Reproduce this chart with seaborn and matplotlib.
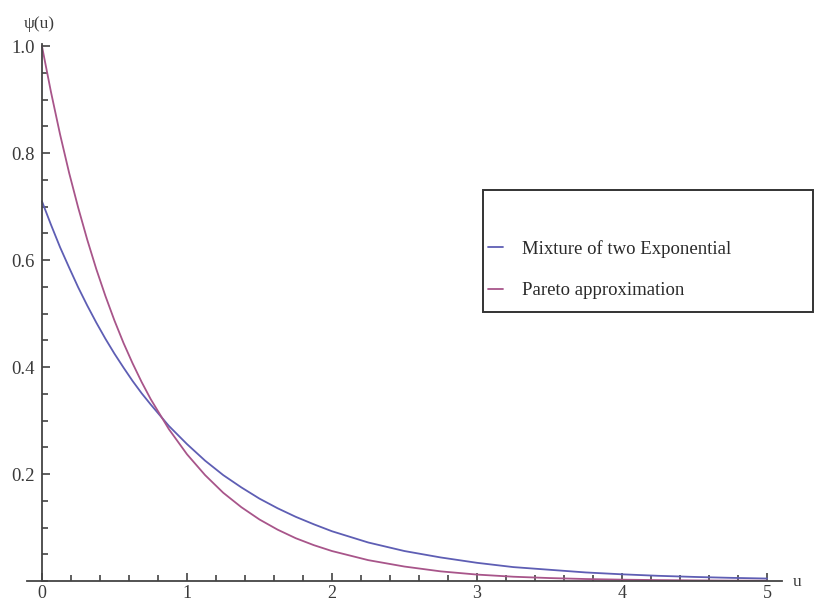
import numpy as np
import pandas as pd
import matplotlib
matplotlib.use("Agg")
import matplotlib.pyplot as plt
from matplotlib.ticker import MultipleLocator, FixedLocator
from matplotlib.patches import Rectangle
import seaborn as sns

# ---- data ----
u_values = [0, 0.0625, 0.125, 0.1875, 0.25, 0.3125, 0.375, 0.4375, 0.5,
            0.5625, 0.625, 0.6875, 0.75, 0.875, 1.0, 1.125, 1.25,
            1.375, 1.5, 1.625, 1.75, 1.875, 2.0, 2.25, 2.5, 2.75, 3.0, 3.25,
            3.5, 3.75, 4.0, 4.25, 4.5, 4.75, 5.0]
mixture_exp = [0.710, 0.666, 0.624, 0.586, 0.549, 0.515, 0.483, 0.453, 0.425,
               0.399, 0.374, 0.351, 0.330, 0.290, 0.256,
               0.225, 0.198, 0.175, 0.154, 0.136, 0.120, 0.106, 0.093, 0.072,
               0.056, 0.044, 0.034, 0.026, 0.021, 0.016, 0.0125, 0.0097,
               0.0076, 0.0059, 0.0046]
pareto_approx = [1.000, 0.914, 0.835, 0.763, 0.698, 0.638, 0.583, 0.533, 0.487,
                 0.445, 0.407, 0.372, 0.340, 0.284, 0.237,
                 0.198, 0.165, 0.138, 0.115, 0.096, 0.080, 0.067, 0.056, 0.039,
                 0.027, 0.018, 0.012, 0.008, 0.0055, 0.0037, 0.0025, 0.0017,
                 0.0011, 0.0007, 0.0005]
series_names = ["Mixture of two Exponential", "Pareto approximation"]
x_ticks = [0, 1, 2, 3, 4, 5]
x_tick_labels = ["0", "1", "2", "3", "4", "5"]
y_ticks = [0.2, 0.4, 0.6, 0.8, 1.0]
y_tick_labels = ["0.2", "0.4", "0.6", "0.8", "1.0"]

df = pd.DataFrame({
    "u": u_values * 2,
    "psi": mixture_exp + pareto_approx,
    "series": [series_names[0]] * len(u_values) + [series_names[1]] * len(u_values),
})

sns.set_style("white")
plt.rcParams["font.family"] = ["Liberation Serif", "DejaVu Serif"]

W, H = 814, 606
fig = plt.figure(figsize=(W / 100, H / 100), dpi=100)
left_px, right_px, top_px, bottom_px = 27, 782, 44, 581
ax = fig.add_axes([left_px / W, (H - bottom_px) / H,
                   (right_px - left_px) / W, (bottom_px - top_px) / H])

palette = {series_names[0]: "#5e5eb4", series_names[1]: "#a8558a"}
sns.lineplot(data=df, x="u", y="psi", hue="series", palette=palette,
             linewidth=1.3, ax=ax, legend=True)

ax.set_xlim(-0.103, 5.103)
ax.set_ylim(0, 1.004)
ax.set_xlabel("")
ax.set_ylabel("")

for s in ["top", "right"]:
    ax.spines[s].set_visible(False)
for s in ["left", "bottom"]:
    ax.spines[s].set_position(("data", 0))
    ax.spines[s].set_color("#444444")
    ax.spines[s].set_linewidth(1.3)

ax.xaxis.set_major_locator(FixedLocator(x_ticks))
ax.set_xticklabels(x_tick_labels)
ax.xaxis.set_minor_locator(MultipleLocator(0.2))
ax.yaxis.set_major_locator(FixedLocator(y_ticks))
ax.set_yticklabels(y_tick_labels)
ax.yaxis.set_minor_locator(MultipleLocator(0.05))

ax.tick_params(which="both", direction="in", color="#333333", width=1.1,
               labelsize=13.5, labelcolor="#3a3a3a")
ax.tick_params(which="major", length=6)
ax.tick_params(which="minor", length=4)
ax.tick_params(axis="x", which="major", pad=3, labelsize=13)
ax.tick_params(axis="y", which="major", pad=5)
ax.tick_params(left=True, bottom=True, which="both")

fig.text(39 / W, 1 - 24 / H, "ψ(u)", ha="center", va="center", fontsize=12.5,
         color="#3a3a3a")
fig.text(797 / W, 1 - 582 / H, "u", ha="center", va="center", fontsize=12.5,
         color="#3a3a3a")

# legend frame
lx0, lx1, ly0, ly1 = 483, 813, 190, 312
fig.add_artist(Rectangle((lx0 / W, 1 - ly1 / H), (lx1 - lx0) / W, (ly1 - ly0) / H,
                         transform=fig.transFigure, fill=False,
                         edgecolor="#333333", linewidth=1.4))

handles, labels = ax.get_legend_handles_labels()
ax.get_legend().remove()
leg = fig.legend(handles, labels, loc="upper left",
                 bbox_to_anchor=(488 / W, 1 - 240 / H),
                 borderaxespad=0, borderpad=0, frameon=False,
                 fontsize=13.5, handlelength=0.8, handletextpad=1.0,
                 labelspacing=1.3)
for t in leg.get_texts():
    t.set_color("#2a2a2a")

fig.savefig("out.png", dpi=100)
